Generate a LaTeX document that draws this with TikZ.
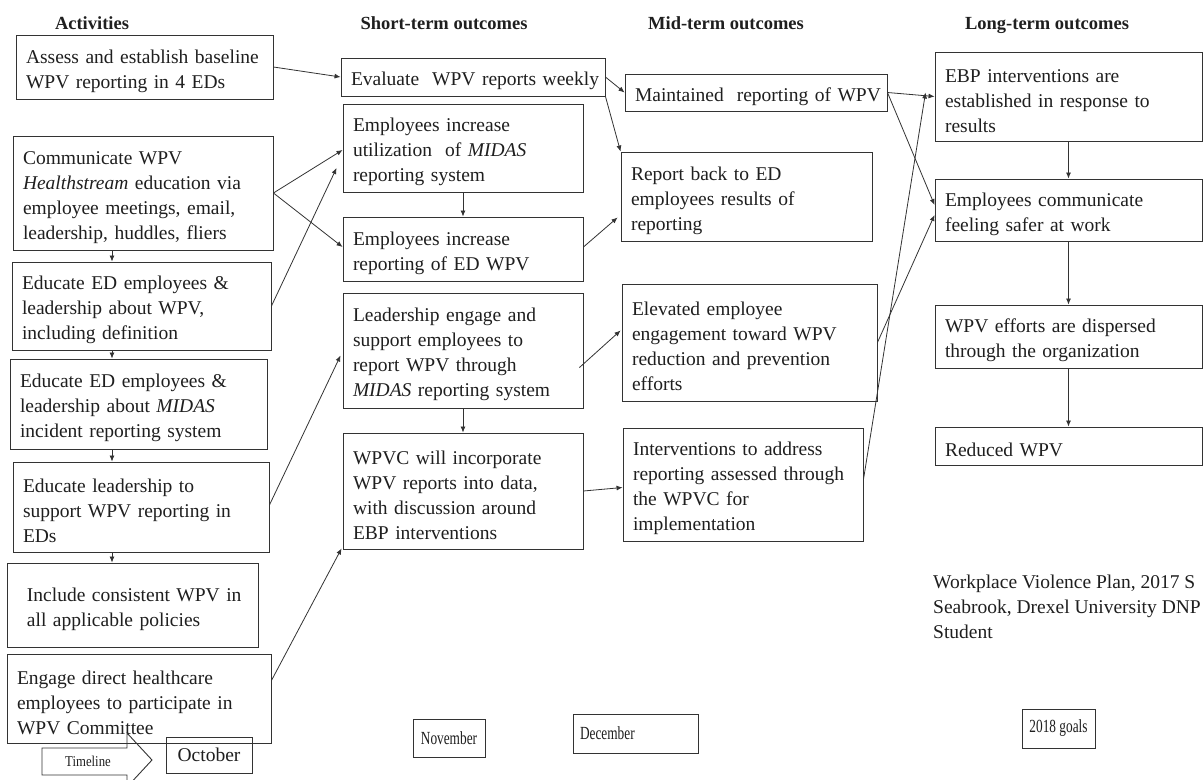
\documentclass[tikz,border=0pt]{standalone}
\usepackage{fontspec}
\setmainfont{Liberation Serif}
\usepackage{graphicx}
\usetikzlibrary{arrows.meta,calc}
\definecolor{linecol}{gray}{0.2}
\definecolor{textcol}{gray}{0.12}
\newcommand\bodyfont{\fontsize{19.5}{25}\selectfont}
\newcommand\hdfont{\fontsize{18.5}{22}\selectfont\bfseries}
\newcommand\monthfont{\fontsize{18.5}{20}\selectfont}
\newcommand\mkbox[7][]{%
  \pgfmathsetmacro\bw{#5-#3}%
  \pgfmathsetmacro\bh{#6-#4}%
  \node[bx,minimum width=\bw pt,minimum height=\bh pt,text width=\bw pt,#1] (#2) at ({(#3+#5)/2},{(#4+#6)/2}) {\leftskip=10pt\relax\rule{0pt}{22pt}#7\par};}
\tikzset{
  bx/.style={draw=linecol,line width=0.9pt,rectangle,inner xsep=0pt,inner ysep=0pt,align=left,font=\bodyfont,text=textcol},
  hd/.style={font=\hdfont,text=textcol,anchor=base,inner sep=0pt},
  arr/.style={draw=linecol,line width=0.8pt,-{Latex[length=6pt,width=5pt]}},
  tlarrow/.style={draw=linecol,line width=0.9pt}
}
\begin{document}
\begin{tikzpicture}[x=1pt,y=-1pt]
\clip (0,0) rectangle (1204,779);
\fill[white] (0,0) rectangle (1204,779);
% headers
\node[hd] (h1) at (92,29) {Activities};
\node[hd] (h2) at (444,29) {Short-term outcomes};
\node[hd] (h3) at (726,29) {Mid-term outcomes};
\node[hd] (h4) at (1047,29) {Long-term outcomes};
% activities
\mkbox{A1}{16}{35}{273}{99}{Assess and establish baseline\\WPV reporting in 4 EDs}
\mkbox{A2}{13}{136}{273}{250}{Communicate WPV\\\textit{Healthstream} education via\\employee meetings, email,\\leadership, huddles, fliers}
\mkbox{A3}{12}{262}{271}{350}{Educate ED employees \&\\leadership about WPV,\\including definition}
\mkbox{A4}{10}{359}{267}{449}{Educate ED employees \&\\leadership about \textit{MIDAS}\\incident reporting system}
\mkbox{A5}{13}{462}{269}{552}{Educate leadership to\\support WPV reporting in\\EDs}
\mkbox{A6}{7}{563}{258}{647}{\hspace*{10pt}Include consistent WPV in\\\hspace*{10pt}all applicable policies}
\mkbox{A7}{7}{654}{271}{743}{Engage direct healthcare\\employees to participate in\\WPV Committee}
% short-term
\mkbox{S1}{341}{58}{605}{96}{Evaluate \ WPV reports weekly}
\mkbox{S2}{343}{104}{583}{192}{Employees increase\\utilization \ of \textit{MIDAS}\\reporting system}
\mkbox{S3}{343}{217}{583}{281}{Employees increase\\reporting of ED WPV}
\mkbox{S4}{343}{293}{583}{408}{Leadership engage and\\support employees to\\report WPV through\\\textit{MIDAS} reporting system}
\mkbox{S5}{343}{433}{583}{549}{WPVC will incorporate\\WPV reports into data,\\with discussion around\\EBP interventions}
% mid-term
\mkbox{M1}{625}{74}{887}{111}{Maintained \ reporting of WPV}
\mkbox{M2}{621}{152}{872}{241}{Report back to ED\\employees results of\\reporting}
\mkbox{M3}{622}{284}{877}{401}{Elevated employee\\engagement toward WPV\\reduction and prevention\\efforts}
\mkbox{M4}{623}{428}{863}{541}{Interventions to address\\reporting assessed through\\the WPVC for\\implementation}
% long-term
\mkbox{L1}{935}{52}{1202}{141}{EBP interventions are\\established in response to\\results}
\mkbox{L2}{935}{179}{1202}{241}{Employees communicate\\feeling safer at work}
\mkbox{L3}{935}{305}{1202}{368}{WPV efforts are dispersed\\through the organization}
\mkbox{L4}{935}{427}{1202}{465}{Reduced WPV}
% credit text
\node[anchor=base west,inner sep=0pt,align=left,font=\bodyfont,text=textcol] (cred) at (933,638)
  {Workplace Violence Plan, 2017 S\\Seabrook, Drexel University DNP\\Student};
% timeline
\draw[tlarrow] (42,748) -- (127,748) -- (127,733) -- (152,760) -- (127,787) -- (127,775) -- (42,775) -- cycle;
\node[font=\fontsize{15}{16}\selectfont,text=textcol,inner sep=0pt] (tl) at (88,761) {\scalebox{0.85}[1]{Timeline}};
\node[bx,inner xsep=0pt,minimum width=86pt,minimum height=36pt,align=center] (oct) at (209,755) {October};
\node[bx,inner xsep=0pt,minimum width=72pt,minimum height=38pt,align=center,font=\monthfont] (nov) at (449,738) {\scalebox{0.72}[1]{November}};
\node[bx,inner xsep=7pt,minimum width=125pt,minimum height=39pt,text width=111pt,align=left,font=\monthfont] (dec) at (635.5,733.5) {\scalebox{0.72}[1]{December}};
\node[bx,inner xsep=0pt,minimum width=73pt,minimum height=39pt,align=center,font=\monthfont] (goals) at (1058.5,728.5) {\scalebox{0.72}[1]{2018 goals}};
% left column arrows
\coordinate (colx) at (112,0);
\draw[arr] (A2.south -| colx) -- (A3.north -| colx);
\draw[arr] (A3.south -| colx) -- (A4.north -| colx);
\draw[arr] (A4.south -| colx) -- (A5.north -| colx);
\draw[arr] (A5.south -| colx) -- (A6.north -| colx);
% activities -> short-term
\draw[arr] (A1.east) -- (S1.west);
\draw[arr] (A2.east) -- ($(S2.west)+(0,2)$);
\draw[arr] (A2.east) -- ($(S3.west)+(0,-2)$);
\draw[arr] (A3.east) -- ($(S2.west)+(-6,20)$);
\draw[arr] ($(A5.east)+(0,-2)$) -- ($(S4.west)+(-2,5)$);
\draw[arr] ($(A7.east)+(0,-18)$) -- ($(S5.south west)+(-1,-1)$);
% short-term internal
\draw[arr] (S2.south) -- (S3.north);
\draw[arr] (S4.south) -- (S5.north);
% short -> mid
\draw[arr] (S1.east) -- (M1.west);
\draw[arr] (S1.south east) -- (M2.north west);
\draw[arr] ($(S3.east)+(0,-2)$) -- ($(M2.west)+(-3,21)$);
\draw[arr] ($(S4.east)+(-4,17)$) -- ($(M3.west)+(-1,-12)$);
\draw[arr] (S5.east) -- ($(M4.west)+(0,3)$);
% mid -> long
\draw[arr] (M1.east) -- (L1.west);
\draw[arr] (M1.east) -- ($(L2.west)+(0,-5)$);
\draw[arr] (M3.east) -- ($(L2.west)+(0,5)$);
\draw[arr] ($(M4.east)+(0,-5)$) -- ($(L1.west)+(-9,-4)$);
% long-term internal
\draw[arr] (L1.south) -- (L2.north);
\draw[arr] (L2.south) -- (L3.north);
\draw[arr] (L3.south) -- (L4.north);
\end{tikzpicture}
\end{document}
